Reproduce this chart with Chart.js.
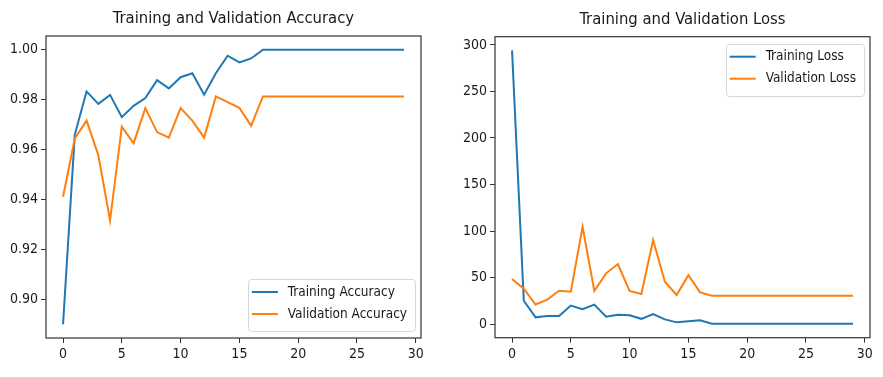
<!DOCTYPE html>
<html><head><meta charset="utf-8">
<script src="https://cdn.jsdelivr.net/npm/chart.js@4.4.0/dist/chart.umd.min.js"></script>
<style>
html,body{margin:0;padding:0;background:#fff;}
body{width:883px;height:377px;position:relative;overflow:hidden;}
.box{position:absolute;top:0;height:377px;}
#b1{left:0;width:440px;}
#b2{left:440px;width:443px;}
</style></head><body>
<div class="box" id="b1"><canvas id="c1"></canvas></div>
<div class="box" id="b2"><canvas id="c2"></canvas></div>
<script>
const epochs = [0,1,2,3,4,5,6,7,8,9,10,11,12,13,14,15,16,17,18,19,20,21,22,23,24,25,26,27,28,29];
const trainAcc = [0.890,0.966,0.9833,0.9783,0.9819,0.973,0.9775,0.9806,0.9878,0.9845,0.989,0.9906,0.982,0.9906,0.9976,0.9949,0.9965,1.0,1.0,1.0,1.0,1.0,1.0,1.0,1.0,1.0,1.0,1.0,1.0,1.0];
const valAcc = [0.9411,0.9645,0.9716,0.9578,0.9316,0.9692,0.9625,0.9766,0.967,0.9648,0.9766,0.9716,0.9648,0.9813,0.979,0.9767,0.9695,0.9813,0.9813,0.9813,0.9813,0.9813,0.9813,0.9813,0.9813,0.9813,0.9813,0.9813,0.9813,0.9813];
const trainLoss = [294.2,25.0,7.2,8.6,8.6,19.8,16.0,20.9,7.9,10.0,9.4,5.6,10.8,5.0,1.8,3.1,4.0,0.3,0.2,0.2,0.2,0.2,0.2,0.2,0.2,0.2,0.2,0.2,0.2,0.2];
const valLoss = [48.5,38.0,21.0,26.2,35.8,34.8,104.6,35.6,54.5,64.5,35.6,32.3,90.3,45.5,31.2,52.5,34.0,30.4,30.3,30.3,30.3,30.3,30.3,30.3,30.3,30.3,30.3,30.3,30.3,30.3];
const xTicks = [0,5,10,15,20,25,30];
const accTicks = [0.90,0.92,0.94,0.96,0.98,1.00];
const lossTicks = [0,50,100,150,200,250,300];
const accLabels = ['Training Accuracy','Validation Accuracy'];
const lossLabels = ['Training Loss','Validation Loss'];
const titles = ['Training and Validation Accuracy','Training and Validation Loss'];

const FONT = "'DejaVu Sans Condensed', 'DejaVu Sans', sans-serif";
const C0 = '#1f77b4', C1 = '#ff7f0e';
const TXT = '#1a1a1a';
Chart.defaults.font.family = FONT;
Chart.defaults.color = TXT;

const framePlugin = {
  id: 'frame',
  afterDatasetsDraw(chart) {
    const {ctx, chartArea: a} = chart;
    ctx.save();
    ctx.strokeStyle = '#333';
    ctx.lineWidth = 1.2;
    ctx.strokeRect(a.left, a.top, a.right - a.left, a.bottom - a.top);
    ctx.restore();
  }
};

const insideLegend = {
  id: 'insideLegend',
  afterDraw(chart, args, o) {
    const {ctx, chartArea: a} = chart;
    const ds = chart.data.datasets;
    ctx.save();
    ctx.font = o.fontSize + 'px ' + FONT;
    const tw = Math.max(...ds.map(d => ctx.measureText(d.label).width));
    const w = o.padL + o.lineLen + o.gap + tw + o.padR;
    const h = o.height;
    const x = o.corner.indexOf('right') >= 0 ? a.right - o.insetX - w : a.left + o.insetX;
    const y = o.corner.indexOf('bottom') >= 0 ? a.bottom - o.insetY - h : a.top + o.insetY;
    ctx.beginPath();
    ctx.roundRect(Math.round(x) + 0.5, Math.round(y) + 0.5, Math.round(w), Math.round(h), 3);
    ctx.fillStyle = 'rgba(255,255,255,0.8)';
    ctx.fill();
    ctx.strokeStyle = '#d6d6d6';
    ctx.lineWidth = 1;
    ctx.stroke();
    ds.forEach((d, i) => {
      const cy = y + o.row0 + i * o.rowGap;
      ctx.strokeStyle = d.borderColor;
      ctx.lineWidth = 2;
      ctx.beginPath();
      ctx.moveTo(x + o.padL, cy);
      ctx.lineTo(x + o.padL + o.lineLen, cy);
      ctx.stroke();
      ctx.fillStyle = TXT;
      ctx.textBaseline = 'middle';
      ctx.textAlign = 'left';
      ctx.fillText(d.label, x + o.padL + o.lineLen + o.gap, cy);
    });
    ctx.restore();
  }
};

function pts(vals) { return vals.map((v, i) => ({x: epochs[i], y: v})); }

function makeChart(id, title, labels, tr, va, yTicks, yMin, yMax, yFmt, yWidth, pad, legendCorner) {
  return new Chart(document.getElementById(id), {
    type: 'line',
    data: {
      datasets: [
        {label: labels[0], data: pts(tr), borderColor: C0, backgroundColor: C0, borderWidth: 2, pointRadius: 0, tension: 0, order: 1},
        {label: labels[1], data: pts(va), borderColor: C1, backgroundColor: C1, borderWidth: 2, pointRadius: 0, tension: 0, order: 0}
      ]
    },
    options: {
      responsive: true,
      maintainAspectRatio: false,
      animation: false,
      devicePixelRatio: 1,
      layout: {padding: pad},
      plugins: {
        legend: {display: false},
        tooltip: {enabled: false},
        title: {display: true, text: title, fullSize: false, color: TXT,
                font: {size: 16.5, weight: 'normal', family: FONT, lineHeight: 1.2},
                padding: {top: pad.titleTop, bottom: pad.titleBottom}},
        insideLegend: {corner: legendCorner, fontSize: 13.5, padL: 4, lineLen: 26, gap: 10, padR: 8,
                       height: 52, insetX: 6, insetY: 7, row0: 13, rowGap: 22}
      },
      scales: {
        x: {
          type: 'linear', min: -1.45, max: 30.45,
          afterBuildTicks: s => { s.ticks = xTicks.map(v => ({value: v})); },
          afterFit: s => { s.height = 30; },
          border: {display: false},
          grid: {display: true, drawOnChartArea: false, drawTicks: true, tickLength: 5, color: '#333', lineWidth: 1},
          ticks: {font: {size: 14}, color: TXT, padding: 3, maxRotation: 0, autoSkip: false, callback: v => String(v)}
        },
        y: {
          type: 'linear', min: yMin, max: yMax,
          afterBuildTicks: s => { s.ticks = yTicks.map(v => ({value: v})); },
          afterFit: s => { s.width = yWidth; },
          border: {display: false},
          grid: {display: true, drawOnChartArea: false, drawTicks: true, tickLength: 5, color: '#333', lineWidth: 1},
          ticks: {font: {size: 14}, color: TXT, padding: 3, autoSkip: false, callback: yFmt}
        }
      }
    },
    plugins: [framePlugin, insideLegend]
  });
}

makeChart('c1', titles[0], accLabels, trainAcc, valAcc, accTicks, 0.8845, 1.0055, v => v.toFixed(2), 46,
  {left: 0, right: 19, top: 0, bottom: 9, titleTop: 9, titleBottom: 7.2}, 'bottom-right');
makeChart('c2', titles[1], lossLabels, trainLoss, valLoss, lossTicks, -14.7, 308.9, v => String(v), 55,
  {left: 0, right: 13, top: 0, bottom: 9.3, titleTop: 9.5, titleBottom: 7.4}, 'top-right');
</script>
</body></html>
